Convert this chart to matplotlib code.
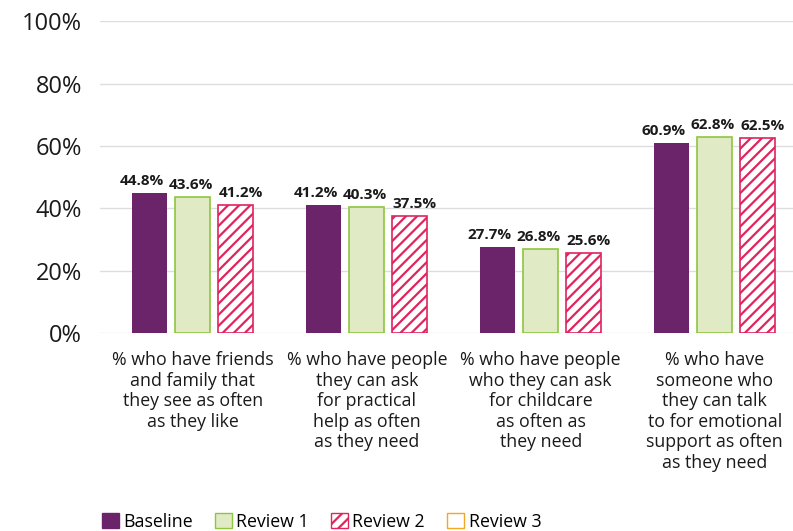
import matplotlib.pyplot as plt
import numpy as np
from matplotlib.patches import Patch

# data
categories = ['% who have friends\nand family that\nthey see as often\nas they like',
              '% who have people\nthey can ask\nfor practical\nhelp as often\nas they need',
              '% who have people\nwho they can ask\nfor childcare\nas often as\nthey need',
              '% who have\nsomeone who\nthey can talk\nto for emotional\nsupport as often\nas they need']
baseline = [44.8, 41.2, 27.7, 60.9]
review1 = [43.6, 40.3, 26.8, 62.8]
review2 = [41.2, 37.5, 25.6, 62.5]

plt.rcParams['font.family'] = ['Open Sans', 'DejaVu Sans']
plt.rcParams['hatch.linewidth'] = 1.6

fig = plt.figure(figsize=(7.93, 5.31), dpi=100)
ax = fig.add_axes([0.126, 0.373, 0.874, 0.587])

x = np.arange(len(categories))
w = 0.2
gap = 0.247
purple = '#6B2469'
green_fill = '#E0EBC5'
green_edge = '#8DC63F'
red = '#E0245E'
orange = '#F5A623'

b1 = ax.bar(x - gap, baseline, w, color=purple)
b2 = ax.bar(x, review1, w, color=green_fill, edgecolor=green_edge, linewidth=1.2)
b3 = ax.bar(x + gap, review2, w, color='white', edgecolor=red, hatch='///', linewidth=1.2)

# labels are nudged apart a little, like in the original
for bars, vals, nudge in [(b1, baseline, -0.045), (b2, review1, -0.01), (b3, review2, 0.03)]:
    for b, v in zip(bars, vals):
        ax.text(b.get_x() + b.get_width() / 2 + nudge, v + 1.6, f'{v}%', ha='center', va='bottom',
                fontsize=11, fontweight='bold', color='#1a1a1a')

ax.set_ylim(0, 100)
ax.set_xlim(-0.534, 3.45)
ax.set_yticks(range(0, 101, 20))
ax.set_yticklabels([f'{t}%' for t in range(0, 101, 20)], fontsize=17, color='#1a1a1a')
ax.set_xticks(x)
ax.set_xticklabels(categories, fontsize=12.8, color='#1a1a1a', linespacing=1.18)
ax.tick_params(axis='y', length=0, pad=13)
ax.tick_params(axis='x', length=0, pad=13)
ax.grid(axis='y', color='#DDDDDD', linewidth=1)
ax.set_axisbelow(True)
for s in ax.spines.values():
    s.set_visible(False)

handles = [Patch(facecolor=purple, edgecolor=purple),
           Patch(facecolor=green_fill, edgecolor=green_edge),
           Patch(facecolor='white', edgecolor=red, hatch='///'),
           Patch(facecolor='white', edgecolor=orange)]
fig.legend(handles, ['Baseline', 'Review 1', 'Review 2', 'Review 3'], loc='lower left',
           bbox_to_anchor=(0.108, -0.03), ncol=4, frameon=False, fontsize=12.8,
           handlelength=0.95, handleheight=0.95, handletextpad=0.25, columnspacing=1.25)

fig.savefig('out.png', dpi=100)
